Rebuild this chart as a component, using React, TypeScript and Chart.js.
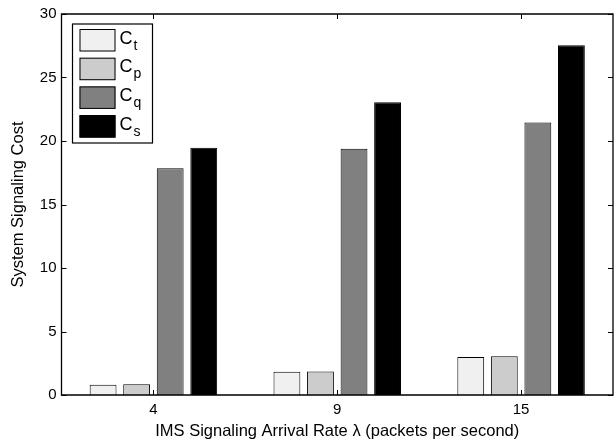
import React, { useEffect, useRef } from "react";
import { Chart, registerables } from "chart.js";

Chart.register(...registerables);

const categories = ["4", "9", "15"];
const seriesNames = ["Ct", "Cp", "Cq", "Cs"];
const seriesSubscripts = ["t", "p", "q", "s"];
const ctValues = [0.8, 1.83, 3.0];
const cpValues = [0.84, 1.86, 3.05];
const cqValues = [17.86, 19.39, 21.46];
const csValues = [19.46, 23.06, 27.54];
const yMin = 0;
const yMax = 30;
const yStep = 5;
const xTitle = "IMS Signaling Arrival Rate \u03bb (packets per second)";
const yTitle = "System Signaling Cost";
const seriesColors = ["#f0f0f0", "#cccccc", "#808080", "#000000"];

const FONT = "'Liberation Sans', Arial, Helvetica, sans-serif";

const framePlugin = {
  id: "matlabFrame",
  afterDatasetsDraw(chart: any) {
    const ctx = chart.ctx;
    const { left, right, top, bottom } = chart.chartArea;
    const xs = chart.scales.x;
    const ys = chart.scales.y;
    ctx.save();
    ctx.strokeStyle = "#000";
    ctx.lineWidth = 1.3;
    ctx.beginPath();
    ctx.rect(left, top, right - left, bottom - top);
    ctx.stroke();
    ctx.lineWidth = 1;
    const tl = 5;
    ctx.beginPath();
    for (let v = yMin; v <= yMax; v += yStep) {
      const y = Math.round(ys.getPixelForValue(v)) + 0.5;
      ctx.moveTo(left, y);
      ctx.lineTo(left + tl, y);
      ctx.moveTo(right, y);
      ctx.lineTo(right - tl, y);
    }
    for (let i = 0; i < categories.length; i++) {
      const x = Math.round(xs.getPixelForTick(i)) + 0.5;
      ctx.moveTo(x, bottom);
      ctx.lineTo(x, bottom - tl);
      ctx.moveTo(x, top);
      ctx.lineTo(x, top + tl);
    }
    ctx.stroke();

    // legend
    const lx = left + 11;
    const ly = top + 10;
    const lw = 80;
    const lh = 119;
    ctx.fillStyle = "#fff";
    ctx.fillRect(lx, ly, lw, lh);
    ctx.lineWidth = 1.2;
    ctx.strokeStyle = "#000";
    ctx.strokeRect(lx, ly, lw, lh);
    const pitch = 28.7;
    chart.data.datasets.forEach((ds: any, i: number) => {
      const sy = ly + 5 + i * pitch;
      const sx = lx + 7;
      ctx.fillStyle = ds.backgroundColor;
      ctx.fillRect(sx, sy, 36, 22.5);
      ctx.lineWidth = 1;
      ctx.strokeStyle = "#000";
      ctx.strokeRect(sx + 0.5, sy + 0.5, 35, 21.5);
      ctx.fillStyle = "#000";
      ctx.textBaseline = "alphabetic";
      ctx.textAlign = "left";
      ctx.font = `18px ${FONT}`;
      const tx = sx + 40;
      const base = sy + 14.5;
      ctx.fillText("C", tx, base);
      const cw = ctx.measureText("C").width;
      ctx.font = `14px ${FONT}`;
      ctx.fillText(seriesSubscripts[i], tx + cw + 1, base + 6);
    });
    ctx.restore();
  },
};

export default function App() {
  const ref = useRef<HTMLCanvasElement | null>(null);
  useEffect(() => {
    if (!ref.current) return;
    const chart = new Chart(ref.current, {
      type: "bar",
      data: {
        labels: categories,
        datasets: [ctValues, cpValues, cqValues, csValues].map((vals, i) => ({
          label: seriesNames[i],
          data: vals,
          backgroundColor: seriesColors[i],
          borderColor: "#000",
          borderWidth: 1,
          categoryPercentage: 0.73,
          barPercentage: 0.8,
        })),
      },
      options: {
        responsive: false,
        animation: false,
        devicePixelRatio: 1,
        layout: { padding: { top: 9, right: 3, left: 0, bottom: 0 } },
        plugins: {
          legend: { display: false },
          tooltip: { enabled: false },
        },
        scales: {
          x: {
            type: "category",
            offset: true,
            grid: { display: false, drawTicks: false },
            border: { display: false },
            ticks: {
              color: "#000",
              font: { family: FONT, size: 15 },
              padding: 6,
              maxRotation: 0,
            },
            title: {
              display: true,
              text: xTitle,
              color: "#000",
              font: { family: FONT, size: 16.5 },
              padding: { top: 4, bottom: 6 },
            },
            afterFit(scale: any) {
              scale.height = 52;
            },
          },
          y: {
            min: yMin,
            max: yMax,
            grid: { display: false, drawTicks: false },
            border: { display: false },
            ticks: {
              stepSize: yStep,
              color: "#000",
              font: { family: FONT, size: 15 },
              padding: 5,
            },
            title: {
              display: true,
              text: yTitle,
              color: "#000",
              font: { family: FONT, size: 16.5 },
              padding: { top: 9, bottom: 0 },
            },
            afterFit(scale: any) {
              scale.width = 61.5;
            },
          },
        },
      },
      plugins: [framePlugin],
    });
    return () => chart.destroy();
  }, []);
  return (
    <div style={{ position: "absolute", left: 0, top: 0, width: 616, height: 447, background: "#fff" }}>
      <canvas ref={ref} width={616} height={447} style={{ width: 616, height: 447, display: "block" }} />
    </div>
  );
}
